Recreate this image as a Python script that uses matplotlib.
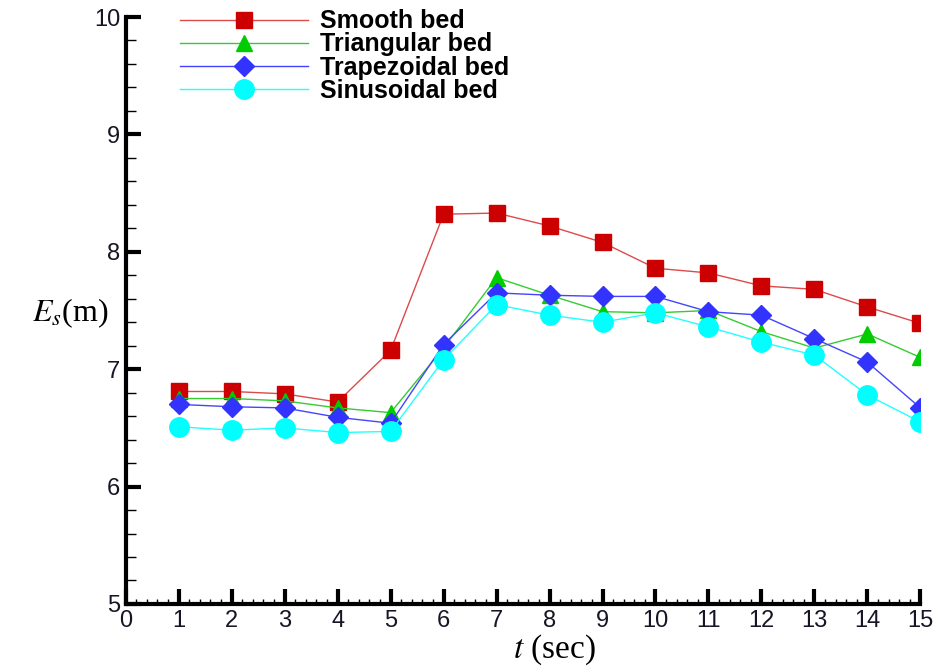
import matplotlib
matplotlib.use('Agg')
import matplotlib.pyplot as plt
from matplotlib.ticker import MultipleLocator

plt.rcParams['font.family'] = ['Liberation Sans', 'DejaVu Sans']
plt.rcParams['mathtext.fontset'] = 'stix'

t = [1, 2, 3, 4, 5, 6, 7, 8, 9, 10, 11, 12, 13, 14, 15]
smooth = [6.81, 6.81, 6.79, 6.72, 7.16, 8.32, 8.33, 8.22, 8.08, 7.86, 7.82, 7.71, 7.68, 7.53, 7.39]
triangular = [6.75, 6.75, 6.73, 6.67, 6.63, 7.18, 7.78, 7.63, 7.49, 7.48, 7.50, 7.32, 7.18, 7.30, 7.10]
trapezoidal = [6.70, 6.68, 6.67, 6.59, 6.54, 7.21, 7.65, 7.63, 7.62, 7.62, 7.49, 7.46, 7.26, 7.06, 6.67]
sinusoidal = [6.51, 6.48, 6.50, 6.46, 6.47, 7.08, 7.55, 7.46, 7.40, 7.48, 7.36, 7.23, 7.12, 6.78, 6.55]

fig = plt.figure(figsize=(9.36, 6.67), dpi=100)
ax = fig.add_axes([0.1343, 0.0945, 0.849, 0.880])

ax.plot(t, smooth, color='#dd4a4a', lw=1.0, marker='s', ms=11, mfc='#cc0000', mec='#cc0000', label='Smooth bed')
ax.plot(t, triangular, color='#33cc33', lw=1.0, marker='^', ms=12, mfc='#00cc00', mec='#00cc00', label='Triangular bed')
ax.plot(t, trapezoidal, color='#4444ff', lw=1.0, marker='D', ms=10, mfc='#3333ff', mec='#3333ff', label='Trapezoidal bed')
ax.plot(t, sinusoidal, color='#22ffff', lw=1.0, marker='o', ms=14, mfc='#00ffff', mec='#00ffff', label='Sinusoidal bed')

ax.set_xlim(0, 15)
ax.set_ylim(5, 10)
ax.xaxis.set_major_locator(MultipleLocator(1))
ax.xaxis.set_minor_locator(MultipleLocator(0.2))
ax.yaxis.set_major_locator(MultipleLocator(1))
ax.yaxis.set_minor_locator(MultipleLocator(0.2))

for s in ['top', 'right']:
    ax.spines[s].set_visible(False)
for s in ['left', 'bottom']:
    ax.spines[s].set_linewidth(3)

ax.tick_params(which='major', direction='in', length=11, width=3, labelsize=17,
               labelcolor='#151525', pad=4)
ax.tick_params(axis='x', which='minor', direction='in', length=3.5, width=1)
ax.tick_params(axis='y', which='minor', direction='in', length=7, width=1)

fig.text(0.075, 0.531, r'$E_s$(m)', fontsize=23, family='Liberation Serif',
         ha='center', va='center')
fig.text(0.592, 0.026, r'$t$ (sec)', fontsize=24, family='Liberation Serif',
         ha='center', va='center')

ax.legend(loc='upper left', bbox_to_anchor=(172 / 936, 1 - 2 / 667), bbox_transform=fig.transFigure,
          frameon=False, prop={'weight': 'bold', 'size': 18}, handlelength=5.15,
          handletextpad=0.45, labelspacing=-0.04, borderaxespad=0.2, borderpad=0.1)

fig.savefig('out.png', dpi=100)
